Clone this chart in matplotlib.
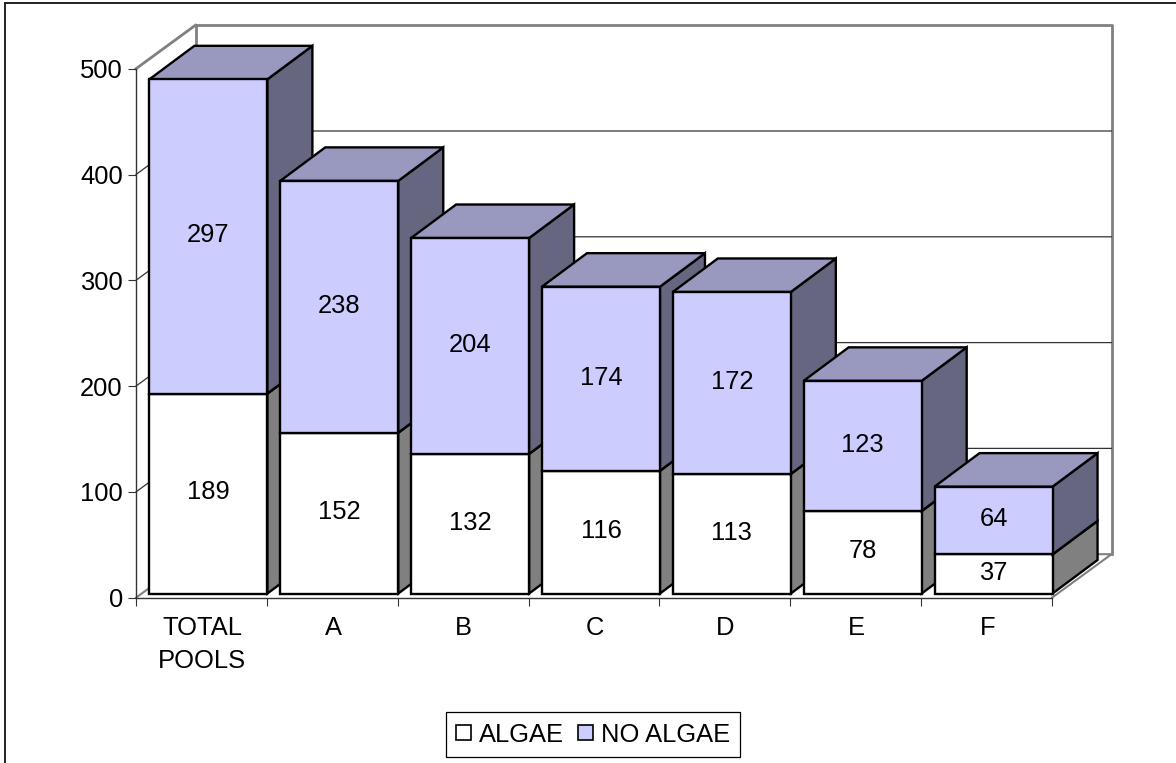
import matplotlib
matplotlib.use("Agg")
import matplotlib.pyplot as plt
from matplotlib.patches import Polygon, Patch
from matplotlib.lines import Line2D

plt.rcParams['font.family'] = ['Liberation Sans', 'DejaVu Sans']

categories = ["TOTAL\nPOOLS", "A", "B", "C", "D", "E", "F"]
algae = [189, 152, 132, 116, 113, 78, 37]
no_algae = [297, 238, 204, 174, 172, 123, 64]
y_ticks = [0, 100, 200, 300, 400, 500]

W, H = 1176, 763
# front plane of the plot box in pixels
left, right, top, bottom = 136, 1052, 68.7, 597.7
FS = 18.4

fig = plt.figure(figsize=(W / 100, H / 100), dpi=100)
ax = fig.add_axes([left / W, 1 - bottom / H, (right - left) / W, (bottom - top) / H])
ax.set_xlim(0, len(categories))
ax.set_ylim(0, 500)
ax.patch.set_alpha(0)

# 3d offsets, in data units
px_x = (right - left) / len(categories)
px_y = (bottom - top) / 500
wall_dx = 59.5 / px_x
wall_dy = 43.5 / px_y
bar_dx = 45 / px_x
bar_dy = 33.5 / px_y
base_x = 13.4 / px_x
base_y = 4.2 / px_y
bar_w = 118 / px_x

GREY = "#808080"

# walls and floor
n = len(categories)
wall_style = dict(color=GREY, lw=2, clip_on=False, zorder=1, solid_capstyle="projecting")
ax.plot([wall_dx, n + wall_dx, n + wall_dx], [500 + wall_dy, 500 + wall_dy, wall_dy], **wall_style)
ax.plot([wall_dx, wall_dx], [500 + wall_dy, wall_dy], **wall_style)
ax.plot([0, wall_dx], [500, 500 + wall_dy], **wall_style)
ax.plot([0, wall_dx, n + wall_dx, n], [0, wall_dy, wall_dy, 0], color=GREY, lw=1.5,
        clip_on=False, zorder=1)
for v in y_ticks[1:-1]:
    ax.plot([0, wall_dx, n + wall_dx], [v, v + wall_dy, v + wall_dy], color="#333333", lw=0.9,
            clip_on=False, zorder=1)


def draw_block(x, y0, y1, front, roof, side, z):
    xa, xb = x, x + bar_w
    ya, yb = y0 + base_y, y1 + base_y
    style = dict(ec="black", lw=1.7, joinstyle="miter", clip_on=False, zorder=z)
    ax.add_patch(Polygon([(xb, ya), (xb + bar_dx, ya + bar_dy), (xb + bar_dx, yb + bar_dy), (xb, yb)],
                         fc=side, **style))
    ax.add_patch(Polygon([(xa, yb), (xb, yb), (xb + bar_dx, yb + bar_dy), (xa + bar_dx, yb + bar_dy)],
                         fc=roof, **style))
    ax.add_patch(Polygon([(xa, ya), (xb, ya), (xb, yb), (xa, yb)], fc=front, **style))


for i in range(n):
    x = i + base_x
    z = 3 + i
    draw_block(x, 0, algae[i], "white", "#BFBFBF", GREY, z)
    draw_block(x, algae[i], algae[i] + no_algae[i], "#CCCCFF", "#9999BF", "#666680", z + 0.1)
    ax.text(x + bar_w / 2, algae[i] / 2 + base_y + 1, str(algae[i]), ha="center", va="center",
            fontsize=FS, zorder=20)
    ax.text(x + bar_w / 2, algae[i] + no_algae[i] / 2 + base_y + 1, str(no_algae[i]), ha="center",
            va="center", fontsize=FS, zorder=20)

# axes
for s in ["top", "right"]:
    ax.spines[s].set_visible(False)
for s in ["left", "bottom"]:
    ax.spines[s].set_color("#333333")
    ax.spines[s].set_linewidth(1)
    ax.spines[s].set_zorder(2)
ax.set_yticks(y_ticks)
ax.set_xticks(range(n + 1))
ax.set_xticklabels([""] * (n + 1))
ax.tick_params(axis="y", length=6, width=0.8, color="#333333", labelsize=FS, pad=3.5)
ax.tick_params(axis="x", length=6, width=0.8, color="#333333")
for i, label in enumerate(categories):
    ax.annotate(label, (i + 0.5, 0), xytext=(0.5, -13), textcoords="offset points", ha="center",
                va="top", fontsize=FS, linespacing=1.5, annotation_clip=False)

# legend box
handles = [Patch(fc="white", ec="black", lw=1.2, label="ALGAE"),
           Patch(fc="#CCCCFF", ec="black", lw=1.2, label="NO ALGAE")]
leg = fig.legend(handles=handles, loc="center", bbox_to_anchor=(593 / W, 1 - 734.5 / H), ncol=2,
                 fontsize=FS, frameon=True, fancybox=False, edgecolor="black", framealpha=1,
                 handlelength=0.6, handleheight=0.55, handletextpad=0.3, columnspacing=0.55,
                 borderpad=0.4, borderaxespad=0)
leg.get_frame().set_linewidth(0.9)

# outer frame
fig.add_artist(Line2D([5 / W, 5 / W], [0, 1 - 2.5 / H], color="#222222", lw=1.4))
fig.add_artist(Line2D([5 / W, 1], [1 - 2.5 / H, 1 - 2.5 / H], color="#222222", lw=1.4))

fig.savefig("out.png", dpi=100)
